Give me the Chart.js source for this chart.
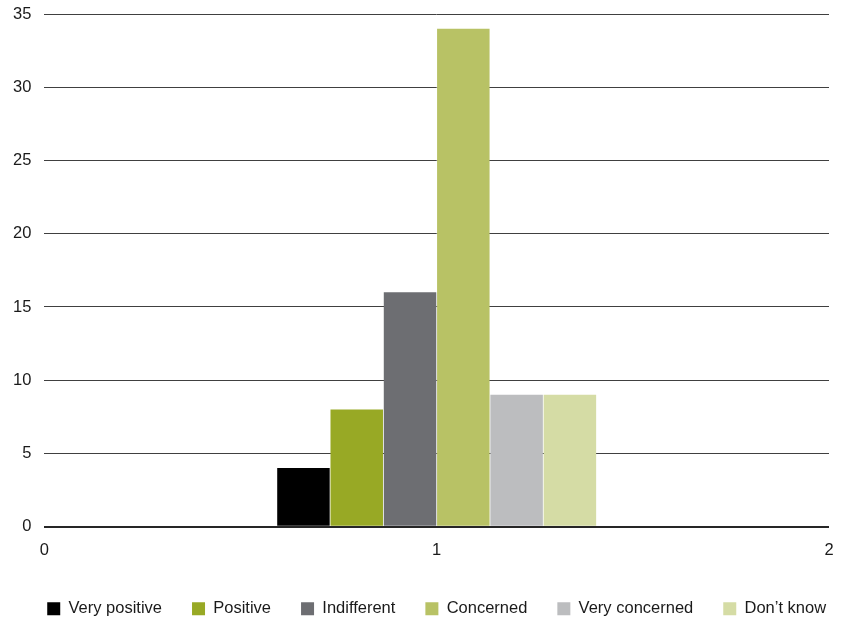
<!DOCTYPE html>
<html>
<head>
<meta charset="utf-8">
<script src="https://cdn.jsdelivr.net/npm/chart.js@4"></script>
<style>
  html, body { margin: 0; padding: 0; background: #fff; }
  #wrap { width: 843px; height: 622px; }
</style>
</head>
<body>
<div id="wrap"><canvas id="chart"></canvas></div>
<script>
// answers, one bar each, all at x = 1
const categories = ['Very positive', 'Positive', 'Indifferent', 'Concerned', 'Very concerned', 'Don\u2019t know'];
const values = [4, 8, 16, 34, 9, 9];
const colors = ['#000000', '#98a925', '#6d6e72', '#b8c265', '#bcbdbf', '#d5dca5'];
const xPosition = 1;

const datasets = categories.map((name, i) => ({
    label: name,
    data: [{x: xPosition, y: values[i]}],
    backgroundColor: colors[i],
    borderWidth: 0,
    categoryPercentage: 0.815,
    barPercentage: 0.985
}));

Chart.defaults.font.family = '"Liberation Sans", Arial, sans-serif';
Chart.defaults.font.size = 16.5;
Chart.defaults.color = '#1a1a1a';

// keep the legend centred under the plot area instead of the whole canvas
const centerLegend = {
    id: 'centerLegend',
    afterLayout(chart) {
        const lg = chart.legend;
        const shift = (chart.chartArea.left + chart.chartArea.right) / 2 - (lg.left + lg.right) / 2;
        lg.left += shift;
        lg.right += shift;
    }
};

const ctx = document.getElementById('chart');
new Chart(ctx, {
    type: 'bar',
    data: {datasets: datasets},
    plugins: [centerLegend],
    options: {
        responsive: true,
        maintainAspectRatio: false,
        animation: false,
        layout: {padding: {left: 0, right: 0, top: 0, bottom: -5}},
        scales: {
            x: {
                type: 'linear',
                min: 0,
                max: 2,
                offset: false,
                ticks: {stepSize: 1, padding: 14},
                grid: {display: false, drawTicks: false, offset: false},
                border: {display: false},
                afterFit: s => { s.height -= 4; s.paddingRight = 14; }
            },
            y: {
                min: 0,
                max: 35,
                ticks: {stepSize: 5, padding: 13},
                grid: {
                    drawTicks: false,
                    color: c => c.tick && c.tick.value === 0 ? '#262626' : '#404040',
                    lineWidth: c => c.tick && c.tick.value === 0 ? 2 : 1
                },
                border: {display: false},
                afterFit: s => { s.paddingTop = 14; }
            }
        },
        plugins: {
            legend: {
                position: 'bottom',
                labels: {boxWidth: 13, boxHeight: 13, padding: 30, color: '#1a1a1a'}
            },
            tooltip: {enabled: false}
        }
    }
});
</script>
</body>
</html>
